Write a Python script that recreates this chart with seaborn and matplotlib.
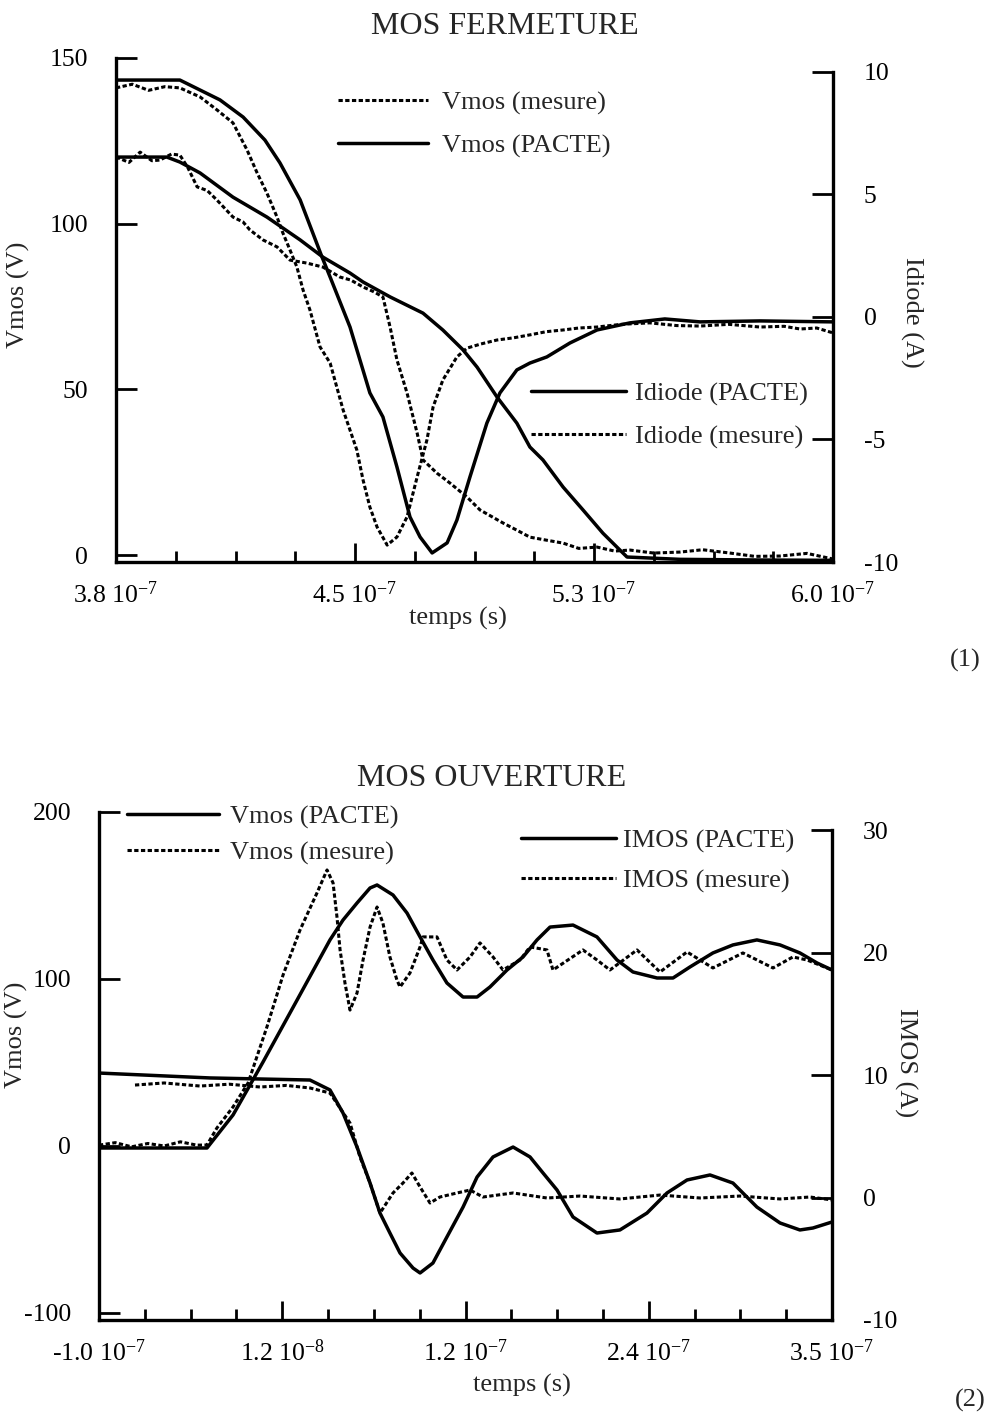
import numpy as np
import pandas as pd
import matplotlib
matplotlib.use("Agg")
import matplotlib.pyplot as plt
from matplotlib.lines import Line2D
from matplotlib.ticker import FixedLocator
import seaborn as sns

# ------------------------------------------------------------------
# DATA  (time in units of 1e-7 s)
# ------------------------------------------------------------------
# (1) MOS FERMETURE
t1_vmos_pacte = [3.80, 3.956, 3.996, 4.058, 4.159, 4.263, 4.365, 4.435, 4.518, 4.558, 4.641,
                 4.742, 4.803, 4.865, 4.908, 4.969, 5.030, 5.070, 5.110, 5.172, 5.233, 5.294,
                 5.337, 5.368, 5.531, 5.776, 6.0]
v1_vmos_pacte = [120.1, 120.1, 118.6, 115.3, 108.0, 102.0, 95.1, 89.9, 85.1, 82.4, 77.9,
                 73.0, 67.9, 61.9, 56.7, 47.7, 39.8, 32.6, 28.7, 20.5, 13.6, 6.6,
                 2.4, -0.6, -1.3, -1.5, -1.6]

t1_vmos_mes = [3.80, 3.84, 3.874, 3.91, 3.935, 3.97, 3.996, 4.02, 4.049, 4.08, 4.110, 4.159,
               4.19, 4.211, 4.251, 4.294, 4.334, 4.386, 4.435, 4.487, 4.52, 4.558, 4.59, 4.619,
               4.641, 4.662, 4.693, 4.724, 4.742, 4.785, 4.825, 4.877, 4.917, 4.987, 5.03,
               5.070, 5.12, 5.172, 5.22, 5.276, 5.33, 5.377, 5.45, 5.531, 5.6, 5.684, 5.76,
               5.837, 5.92, 6.0]
v1_vmos_mes = [120.1, 118.5, 121.6, 119.0, 119.2, 121.0, 120.7, 117.0, 111.1, 110.0, 107.1, 102.0,
               100.5, 98.1, 95.1, 93.0, 89.0, 88.1, 86.9, 83.9, 83.0, 80.9, 79.5, 77.9,
               68.8, 58.9, 48.9, 36.8, 28.7, 24.7, 21.7, 17.5, 13.6, 9.7, 7.5,
               5.4, 4.5, 3.6, 2.0, 2.4, 1.2, 1.5, 0.6, 0.9, 1.6, 0.6, -0.4,
               -0.3, 0.5, -1.2]

t1_idiode_pacte = [3.80, 3.996, 4.119, 4.190, 4.257, 4.303, 4.365, 4.432, 4.457, 4.518, 4.579,
                   4.619, 4.662, 4.702, 4.733, 4.770, 4.816, 4.846, 4.886, 4.938, 4.978, 5.030,
                   5.070, 5.122, 5.193, 5.276, 5.377, 5.484, 5.592, 5.776, 6.0]
i1_idiode_pacte = [9.67, 9.67, 8.86, 8.16, 7.22, 6.29, 4.78, 2.45, 1.63, -0.41, -3.10,
                   -4.08, -6.12, -8.16, -8.98, -9.63, -9.22, -8.29, -6.53, -4.33, -3.10, -2.16,
                   -1.88, -1.63, -1.06, -0.53, -0.24, -0.08, -0.20, -0.16, -0.20]

t1_idiode_mes = [3.80, 3.85, 3.90, 3.95, 3.996, 4.058, 4.110, 4.159, 4.202, 4.233, 4.263, 4.294,
                 4.312, 4.334, 4.355, 4.374, 4.395, 4.426, 4.457, 4.497, 4.539, 4.558, 4.579,
                 4.601, 4.632, 4.662, 4.693, 4.724, 4.754, 4.773, 4.803, 4.846, 4.877, 4.92,
                 4.969, 5.02, 5.070, 5.12, 5.172, 5.22, 5.276, 5.35, 5.438, 5.52, 5.592, 5.68,
                 5.776, 5.85, 5.899, 5.95, 6.0]
i1_idiode_mes = [9.35, 9.50, 9.25, 9.40, 9.35, 8.98, 8.45, 7.92, 6.82, 5.88, 5.06, 4.08,
                 3.43, 2.73, 2.04, 1.10, 0.29, -1.22, -1.88, -3.80, -5.43, -6.65, -7.76,
                 -8.57, -9.31, -8.98, -8.16, -6.53, -5.02, -3.67, -2.57, -1.63, -1.27, -1.10,
                 -0.94, -0.85, -0.73, -0.60, -0.53, -0.45, -0.41, -0.30, -0.24, -0.35, -0.37, -0.30,
                 -0.41, -0.38, -0.49, -0.45, -0.65]

# (2) MOS OUVERTURE
t2_vmos_pacte = [-1.0, -0.337, -0.177, -0.073, 0.007, 0.216, 0.418, 0.498, 0.584, 0.664, 0.707,
                 0.805, 0.891, 0.971, 1.050, 1.136, 1.235, 1.321, 1.400, 1.505, 1.603, 1.689,
                 1.769, 1.910, 2.057, 2.180, 2.278, 2.426, 2.524, 2.628, 2.769, 2.892, 3.039,
                 3.181, 3.303, 3.408, 3.5]
v2_vmos_pacte = [-1.2, -1.2, 18.6, 36.5, 50.3, 87.4, 123.4, 135.3, 145.5, 154.5, 156.3,
                 150.3, 139.5, 125.2, 111.4, 97.6, 89.2, 89.2, 95.2, 105.4, 113.2, 123.4,
                 131.1, 132.3, 125.2, 111.4, 104.2, 100.6, 100.6, 107.2, 115.6, 120.4, 123.4,
                 120.4, 115.6, 109.6, 105.4]

t2_vmos_mes = [-1.0, -0.9, -0.8, -0.7, -0.6, -0.5, -0.4, -0.337, -0.276, -0.177, -0.085, 0.031,
               0.130, 0.234, 0.338, 0.400, 0.437, 0.461, 0.480, 0.510, 0.541, 0.584, 0.621,
               0.664, 0.707, 0.743, 0.786, 0.829, 0.848, 0.909, 0.971, 0.989, 1.075, 1.136,
               1.198, 1.278, 1.339, 1.419, 1.480, 1.585, 1.646, 1.750, 1.787, 1.971, 2.057,
               2.137, 2.303, 2.444, 2.610, 2.769, 2.953, 3.138, 3.260, 3.346, 3.5]
v2_vmos_mes = [0.5, 2.0, -0.5, 1.5, 0.0, 2.5, 0.5, 0.6, 10.8, 23.4, 37.7, 71.3,
               102.4, 129.3, 151.5, 165.3, 157.5, 137.1, 117.4, 97.6, 81.4, 91.6, 111.4,
               131.1, 143.1, 133.5, 113.2, 99.4, 95.2, 103.6, 119.2, 125.2, 125.2, 111.4,
               105.4, 113.2, 121.6, 113.2, 105.4, 111.4, 119.2, 117.4, 105.4, 117.4, 111.4,
               105.4, 117.4, 104.2, 116.2, 106.6, 115.6, 106.6, 113.2, 111.4, 105.4]

t2_imos_pacte = [-1.0, -0.319, 0.295, 0.418, 0.498, 0.584, 0.664, 0.725, 0.786, 0.848, 0.928,
                 0.971, 1.050, 1.136, 1.235, 1.321, 1.419, 1.542, 1.646, 1.726, 1.812, 1.910,
                 2.057, 2.198, 2.364, 2.487, 2.610, 2.751, 2.892, 3.039, 3.181, 3.303, 3.383, 3.5]
i2_imos_pacte = [10.16, 9.76, 9.59, 8.78, 6.90, 4.12, 1.18, -1.27, -2.90, -4.53, -5.76,
                 -6.16, -5.35, -3.22, -0.78, 1.67, 3.31, 4.12, 3.31, 2.00, 0.61, -1.59,
                 -2.90, -2.65, -1.27, 0.37, 1.43, 1.84, 1.18, -0.78, -2.08, -2.65, -2.49, -2.00]

t2_imos_mes = [-0.779, -0.6, -0.380, -0.2, -0.012, 0.15, 0.295, 0.418, 0.541, 0.602, 0.664,
               0.725, 0.805, 0.866, 0.921, 0.971, 1.032, 1.093, 1.198, 1.278, 1.357, 1.542,
               1.750, 1.953, 2.198, 2.444, 2.690, 2.935, 3.181, 3.365, 3.5]
i2_imos_mes = [9.18, 9.35, 9.10, 9.25, 9.02, 9.15, 8.94, 8.53, 6.08, 3.31, 1.18,
               -1.27, 0.37, 1.18, 2.00, 0.86, -0.45, 0.04, 0.37, 0.61, 0.04, 0.37,
               -0.04, 0.12, -0.12, 0.20, -0.04, 0.12, -0.12, 0.04, -0.20]

# tick definitions (units of 1e-7 s)
x1_major = [3.8, 3.8 + 2.2 / 3, 3.8 + 4.4 / 3, 6.0]
x1_labels = ["3.8 10$^{-7}$", "4.5 10$^{-7}$", "5.3 10$^{-7}$", "6.0 10$^{-7}$"]
x2_major = [-1.0, 0.125, 1.25, 2.375, 3.5]
x2_labels = ["-1.0 10$^{-7}$", "1.2 10$^{-8}$", "1.2 10$^{-7}$", "2.4 10$^{-7}$", "3.5 10$^{-7}$"]

# ------------------------------------------------------------------
sns.set_theme(style="ticks")
plt.rcParams["font.family"] = ["Liberation Serif", "DejaVu Serif"]
plt.rcParams["mathtext.fontset"] = "custom"
plt.rcParams["mathtext.rm"] = "Liberation Serif"
plt.rcParams["mathtext.it"] = "Liberation Serif:italic"
plt.rcParams["mathtext.default"] = "regular"
plt.rcParams["axes.unicode_minus"] = False

FS_TICK = 18.5
FS_LAB = 19
FS_TITLE = 23
LW_SOLID = 2.5
LW_MES = 2.2
MES_STYLE = (0, (1.4, 0.8))
K = "black"

fig = plt.figure(figsize=(9.85, 14.15), dpi=100)
W, H = 985.0, 1415.0


def ax_rect(x0, x1, ytop, ybot):
    return [x0 / W, 1 - ybot / H, (x1 - x0) / W, (ybot - ytop) / H]


def line(ax, t, y, solid):
    df = pd.DataFrame({"t": np.asarray(t) * 1e-7, "y": y})
    if solid:
        sns.lineplot(data=df, x="t", y="y", ax=ax, color=K, lw=LW_SOLID, sort=False,
                     estimator=None, solid_joinstyle="round")
    else:
        sns.lineplot(data=df, x="t", y="y", ax=ax, color=K, lw=LW_MES, sort=False,
                     estimator=None, linestyle=MES_STYLE)


def style_axes(ax, ax2, xmaj, xlabels, xmin_step, ylim, yticks, y2lim, y2ticks):
    ax.set_xlim(xmaj[0] * 1e-7, xmaj[-1] * 1e-7)
    ax.set_ylim(*ylim)
    ax2.set_ylim(*y2lim)
    ax.xaxis.set_major_locator(FixedLocator([v * 1e-7 for v in xmaj]))
    minors = np.arange(xmaj[0], xmaj[-1] + 1e-9, xmin_step)
    ax.xaxis.set_minor_locator(FixedLocator([v * 1e-7 for v in minors]))
    ax.set_xticklabels(xlabels, fontsize=FS_TICK)
    ax.set_yticks(yticks)
    ax.set_yticklabels([str(v) for v in yticks], fontsize=FS_TICK)
    ax2.set_yticks(y2ticks)
    ax2.set_yticklabels([str(v) for v in y2ticks], fontsize=FS_TICK)
    ax.set_xlabel("")
    ax.set_ylabel("")
    ax2.set_ylabel("")
    for a in (ax, ax2):
        a.spines["top"].set_visible(False)
        a.set_facecolor("none")
    ax.spines["right"].set_visible(False)
    ax2.spines["left"].set_visible(False)
    ax2.spines["bottom"].set_visible(False)
    for s in ("left", "bottom"):
        ax.spines[s].set_linewidth(2.4)
        ax.spines[s].set_color(K)
    ax2.spines["right"].set_linewidth(2.4)
    ax2.spines["right"].set_color(K)
    ax2.spines["right"].set_bounds(y2ticks[0], y2ticks[-1])
    ax.tick_params(axis="x", which="major", direction="in", length=14, width=2, pad=14, colors=K)
    ax.tick_params(axis="x", which="minor", direction="in", length=8, width=2, colors=K)
    ax.tick_params(axis="y", which="major", direction="in", length=15, width=2, pad=20, colors=K)
    ax2.tick_params(axis="y", which="major", direction="in", length=15, width=2, pad=22, colors=K)
    ax.tick_params(axis="y", which="minor", left=False)
    ax2.tick_params(axis="y", which="minor", right=False)


def legend(ax, entries, x, ytop, hl, htp, ls):
    handles = []
    for solid in entries[1]:
        if solid:
            handles.append(Line2D([], [], color=K, lw=LW_SOLID))
        else:
            handles.append(Line2D([], [], color=K, lw=LW_MES, linestyle=MES_STYLE))
    leg = ax.legend(handles, entries[0], loc="upper left", bbox_to_anchor=(x / W, 1 - ytop / H),
                    bbox_transform=fig.transFigure, frameon=False, fontsize=FS_LAB,
                    handlelength=hl, handletextpad=htp, labelspacing=ls, borderpad=0,
                    borderaxespad=0)
    return leg


# ---------------- (1) MOS FERMETURE ----------------
ax1 = fig.add_axes(ax_rect(116, 833, 58, 562))
ax1b = ax1.twinx()
line(ax1, t1_vmos_pacte, v1_vmos_pacte, True)
line(ax1, t1_vmos_mes, v1_vmos_mes, False)
line(ax1b, t1_idiode_pacte, i1_idiode_pacte, True)
line(ax1b, t1_idiode_mes, i1_idiode_mes, False)
style_axes(ax1, ax1b, x1_major, x1_labels, 2.2 / 12, (-2.1, 150), [0, 50, 100, 150],
           (-10, 10.57), [-10, -5, 0, 5, 10])
ax1.set_ylabel("Vmos (V)", fontsize=FS_LAB)
ax1.yaxis.set_label_coords(-0.12, 0.53)
ax1b.set_ylabel("Idiode (A)", fontsize=FS_LAB, rotation=-90, va="center")
ax1b.yaxis.set_label_coords(1.11, 0.496)
l1 = legend(ax1b, (["Vmos (mesure)", "Vmos (PACTE)"], [False, True]), 338, 91, 3.4, 0.55, 0.72)
ax1b.add_artist(l1)
legend(ax1b, (["Idiode (PACTE)", "Idiode (mesure)"], [True, False]), 531, 382, 3.6, 0.35, 0.72)
fig.text(505 / W, 1 - 27 / H, "MOS FERMETURE", ha="center", va="center", fontsize=FS_TITLE)
fig.text(458 / W, 1 - 618 / H, "temps (s)", ha="center", va="center", fontsize=FS_LAB)
fig.text(965 / W, 1 - 660 / H, "(1)", ha="center", va="center", fontsize=FS_LAB)

# ---------------- (2) MOS OUVERTURE ----------------
ax2 = fig.add_axes(ax_rect(99, 832, 812, 1320))
ax2b = ax2.twinx()
line(ax2, t2_vmos_pacte, v2_vmos_pacte, True)
line(ax2, t2_vmos_mes, v2_vmos_mes, False)
line(ax2b, t2_imos_pacte, i2_imos_pacte, True)
line(ax2b, t2_imos_mes, i2_imos_mes, False)
style_axes(ax2, ax2b, x2_major, x2_labels, 4.5 / 16, (-104.2, 200), [-100, 0, 100, 200],
           (-10, 31.47), [-10, 0, 10, 20, 30])
ax2.set_ylabel("Vmos (V)", fontsize=FS_LAB)
ax2.yaxis.set_label_coords(-0.097, 0.561)
ax2b.set_ylabel("IMOS (A)", fontsize=FS_LAB, rotation=-90, va="center")
ax2b.yaxis.set_label_coords(1.10, 0.506)
l2 = legend(ax2b, (["Vmos (PACTE)", "Vmos (mesure)"], [True, False]), 127, 805, 3.5, 0.42, 0.45)
ax2b.add_artist(l2)
legend(ax2b, (["IMOS (PACTE)", "IMOS (mesure)"], [True, False]), 521, 829, 3.6, 0.27, 0.6)
fig.text(492 / W, 1 - 778 / H, "MOS OUVERTURE", ha="center", va="center", fontsize=FS_TITLE)
fig.text(522 / W, 1 - 1385 / H, "temps (s)", ha="center", va="center", fontsize=FS_LAB)
fig.text(970 / W, 1 - 1400 / H, "(2)", ha="center", va="center", fontsize=FS_LAB)

fig.savefig("out.png", dpi=100)
